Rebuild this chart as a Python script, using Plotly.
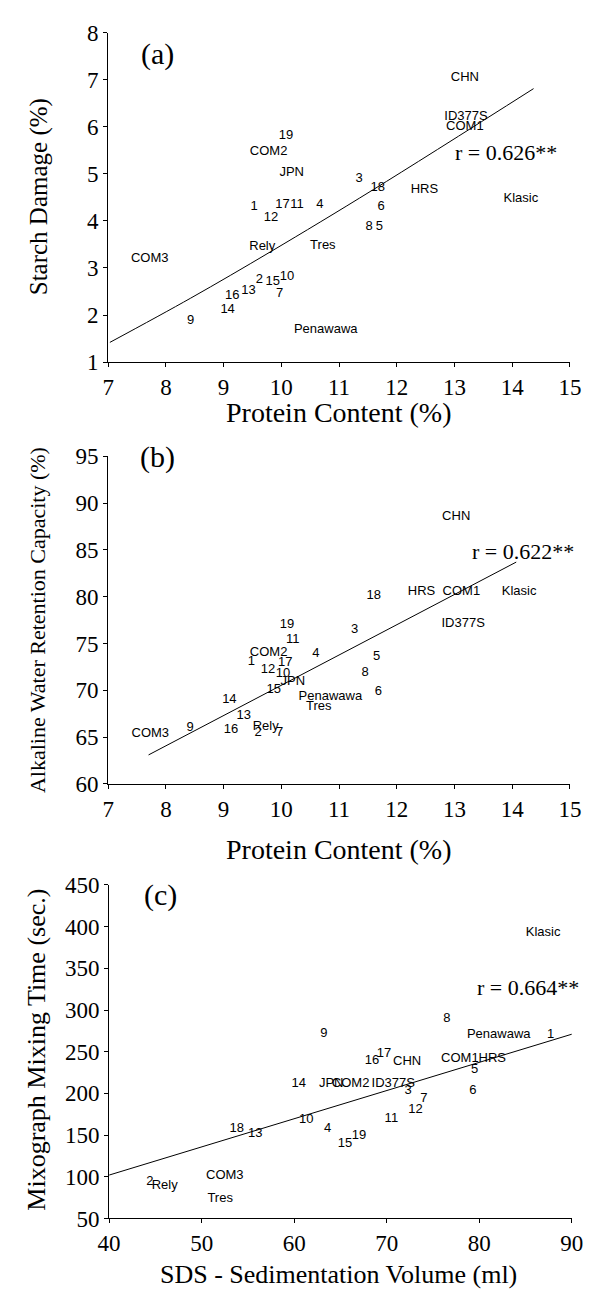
import plotly.graph_objects as go

# ---------------- Panel (a): Protein vs Starch damage ----------------
labels_a = ["CHN", "ID377S", "COM1", "19", "COM2", "JPN", "3", "18", "HRS", "Klasic",
            "1", "17", "11", "4", "6", "12", "8", "5", "Rely", "Tres",
            "COM3", "2", "15", "10", "13", "16", "7", "14", "9", "Penawawa"]
protein_a = [13.18, 13.20, 13.18, 10.08, 9.78, 10.18, 11.35, 11.67, 12.48, 14.15,
             9.53, 10.02, 10.27, 10.67, 11.73, 9.82, 11.52, 11.70, 9.67, 10.72,
             7.72, 9.62, 9.85, 10.10, 9.43, 9.15, 9.97, 9.07, 8.43, 10.77]
starch_damage = [7.04, 6.22, 5.99, 5.80, 5.47, 5.03, 4.90, 4.71, 4.67, 4.48,
                 4.31, 4.35, 4.35, 4.35, 4.31, 4.06, 3.87, 3.87, 3.45, 3.47,
                 3.20, 2.76, 2.70, 2.82, 2.51, 2.40, 2.45, 2.11, 1.88, 1.69]
trend_a_x = [7.03, 8.43, 9.82, 11.60, 14.37]
trend_a_y = [1.42, 2.36, 3.35, 4.67, 6.81]

# ---------------- Panel (b): Protein vs AWRC ----------------
labels_b = ["CHN", "HRS", "COM1", "Klasic", "18", "ID377S", "19", "3", "11", "COM2",
            "4", "5", "1", "17", "12", "10", "8", "JPN", "15", "6",
            "Penawawa", "Tres", "14", "13", "9", "16", "Rely", "2", "7", "COM3"]
protein_b = [13.03, 12.43, 13.12, 14.12, 11.60, 13.15, 10.10, 11.27, 10.20, 9.78,
             10.60, 11.65, 9.48, 10.07, 9.77, 10.03, 11.45, 10.20, 9.87, 11.68,
             10.85, 10.65, 9.10, 9.35, 8.42, 9.13, 9.73, 9.60, 9.97, 7.73]
awrc = [88.5, 80.5, 80.5, 80.5, 80.1, 77.1, 77.0, 76.5, 75.4, 74.0,
        73.9, 73.6, 73.0, 72.9, 72.2, 71.8, 71.9, 70.9, 70.1, 69.8,
        69.3, 68.2, 69.0, 67.3, 66.0, 65.8, 66.1, 65.5, 65.5, 65.4]
trend_b_x = [7.70, 14.07]
trend_b_y = [63.1, 83.7]

# ---------------- Panel (c): SDS vs Mixing time ----------------
labels_c = ["Klasic", "8", "9", "Penawawa", "1", "16", "17", "CHN", "COM1", "HRS",
            "5", "14", "JPN", "COM2", "ID377S", "3", "6", "7", "12", "11",
            "10", "4", "18", "13", "19", "15", "COM3", "2", "Rely", "Tres"]
sds_volume = [86.9, 76.5, 63.2, 82.1, 87.7, 68.4, 69.7, 72.2, 77.9, 81.4,
              79.5, 60.5, 64.0, 66.1, 70.7, 72.3, 79.3, 74.0, 73.1, 70.5,
              61.3, 63.6, 53.8, 55.8, 67.0, 65.5, 52.5, 44.4, 46.0, 52.0]
mixing_time = [393, 290, 271, 270, 270, 239, 248, 238, 242, 242,
               228, 212, 211, 211, 211, 203, 203, 194, 180, 170,
               168, 158, 157, 152, 149, 139, 101, 94, 89, 74]
trend_c_x = [40, 90]
trend_c_y = [102, 271]

W, H = 605, 1305
SANS = "Liberation Sans, Arial, sans-serif"
SERIF = "Liberation Serif, Times New Roman, serif"

fig = go.Figure()

panels = [
    ("x", "y", protein_a, starch_damage, labels_a, trend_a_x, trend_a_y, "spline"),
    ("x2", "y2", protein_b, awrc, labels_b, trend_b_x, trend_b_y, "linear"),
    ("x3", "y3", sds_volume, mixing_time, labels_c, trend_c_x, trend_c_y, "linear"),
]
for xa, ya, xs, ys, labs, tx, ty, shape in panels:
    fig.add_trace(go.Scatter(x=tx, y=ty, mode="lines", xaxis=xa, yaxis=ya,
                             line=dict(color="black", width=1, shape=shape),
                             hoverinfo="skip", showlegend=False))
    fig.add_trace(go.Scatter(x=xs, y=ys, mode="text", text=labs, xaxis=xa, yaxis=ya,
                             textposition="middle center",
                             textfont=dict(family=SANS, size=13, color="black"),
                             showlegend=False))


def px_x(p):
    return p / W


def px_y(p):
    return 1 - p / H


axis_common = dict(showline=True, linecolor="black", linewidth=1, ticks="outside",
                   ticklen=4, tickcolor="black", showgrid=False, zeroline=False,
                   tickfont=dict(family=SERIF, size=23, color="black"))

fig.update_layout(
    width=W, height=H, margin=dict(l=0, r=0, t=0, b=0),
    paper_bgcolor="white", plot_bgcolor="white",
    xaxis=dict(domain=[px_x(101), px_x(581)], range=[7, 15], dtick=1, anchor="y", **axis_common),
    yaxis=dict(domain=[px_y(357), px_y(21)], range=[1, 8], dtick=1, anchor="x", **axis_common),
    xaxis2=dict(domain=[px_x(101), px_x(581)], range=[7, 15], dtick=1, anchor="y2", **axis_common),
    yaxis2=dict(domain=[px_y(787), px_y(453)], range=[60, 95], dtick=5, anchor="x2", **axis_common),
    xaxis3=dict(domain=[px_x(102), px_x(583)], range=[40, 90], dtick=10, anchor="y3", **axis_common),
    yaxis3=dict(domain=[px_y(1230), px_y(890)], range=[50, 450], dtick=50, anchor="x3", **axis_common),
)

annots = [
    # panel letters
    ("(a)", 152, 43, 30, 0),
    ("(b)", 152, 454, 30, 0),
    ("(c)", 155, 900, 30, 0),
    # correlation
    ("r = 0.626**", 515, 143, 22, 0),
    ("r = 0.622**", 532, 550, 22, 0),
    ("r = 0.664**", 537, 995, 22, 0),
    # x titles
    ("Protein Content (%)", 341, 408, 28, 0),
    ("Protein Content (%)", 341, 854, 28, 0),
    ("SDS - Sedimentation Volume (ml)", 340, 1287, 26, 0),
    # y titles
    ("Starch Damage (%)", 30, 188, 25, -90),
    ("Alkaline Water Retention Capacity (%)", 27, 620, 22, -90),
    ("Mixograph Mixing Time (sec.)", 27, 1058, 26, -90),
]
for text, x, y, size, ang in annots:
    fig.add_annotation(text=text, x=px_x(x), y=px_y(y), xref="paper", yref="paper",
                       showarrow=False, textangle=ang, xanchor="center", yanchor="middle",
                       font=dict(family=SERIF, size=size, color="black"))

fig.write_html("out.html", config={"displayModeBar": False},
               post_script="document.body.style.margin='0px';")
